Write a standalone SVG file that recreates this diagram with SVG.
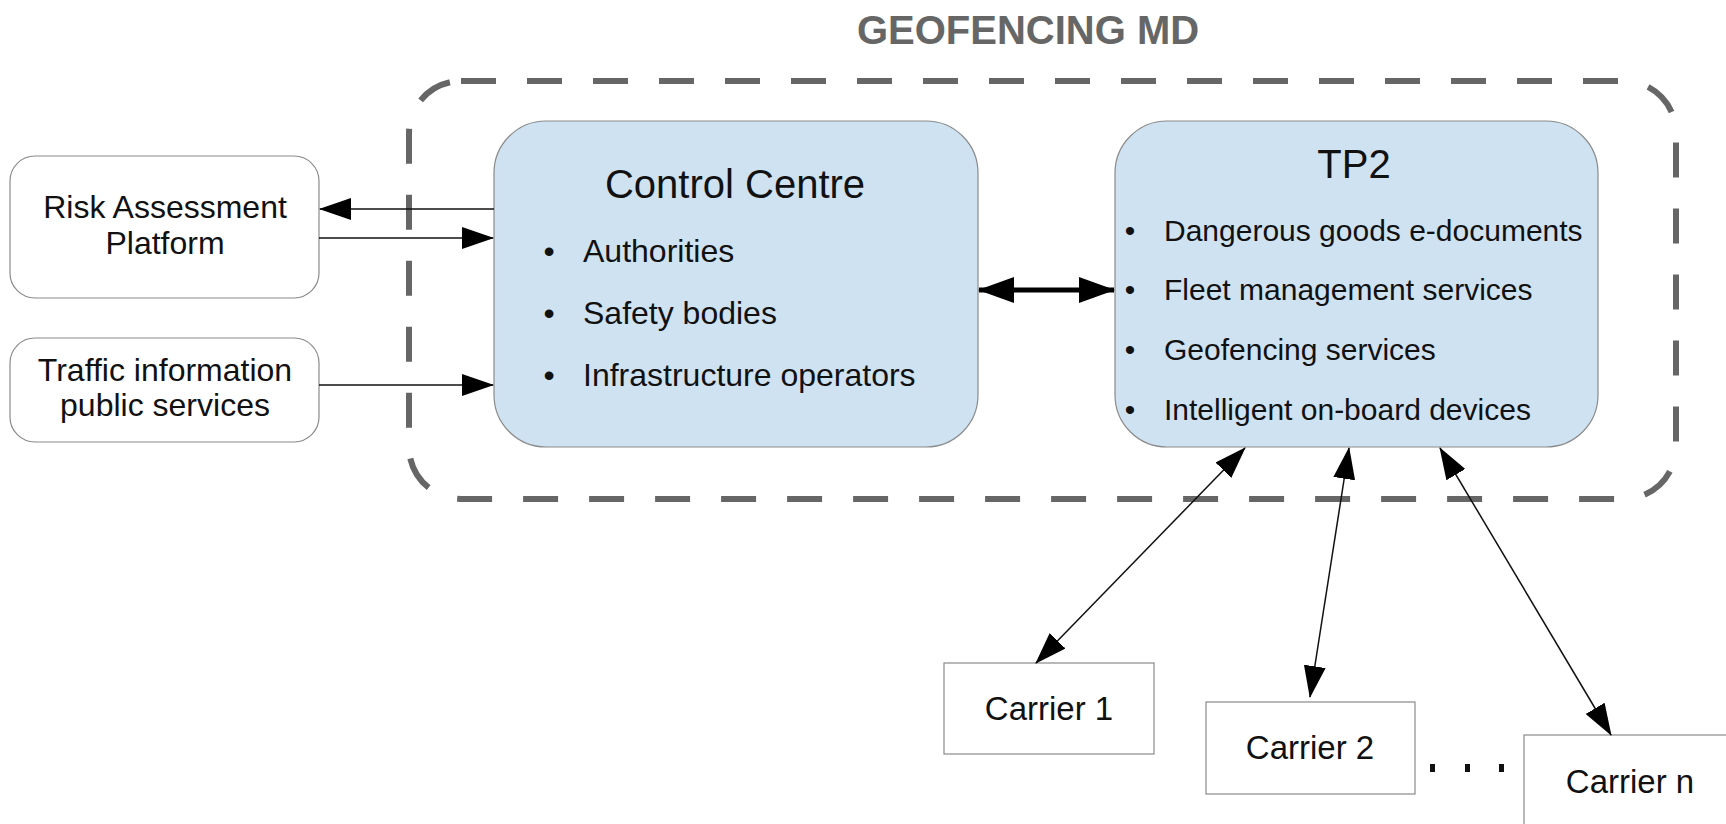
<svg xmlns="http://www.w3.org/2000/svg" width="1726" height="824" viewBox="0 0 1726 824">
<style>
  text { font-family: "Liberation Sans", Arial, sans-serif; fill: #111; }
  .title { font-size: 40px; font-weight: bold; fill: #666; }
  .head { font-size: 40px; }
  .cc { font-size: 32px; }
  .tp { font-size: 30px; }
  .lbl { font-size: 32px; }
  .car { font-size: 33px; }
  .blue { fill: #cfe2f2; stroke: #8a8a8a; stroke-width: 1.2; }
  .white { fill: #fff; stroke: #8a8a8a; stroke-width: 1.2; }
  .thin { stroke: #111; stroke-width: 1.5; fill: none; }
  .thick { stroke: #000; stroke-width: 5; fill: none; }
</style>
<defs>
  <marker id="ah" markerUnits="userSpaceOnUse" markerWidth="32" markerHeight="22" refX="31" refY="11" orient="auto-start-reverse">
    <path d="M0,0 L32,11 L0,22 Z" fill="#000"/>
  </marker>
  <marker id="ahb" markerUnits="userSpaceOnUse" markerWidth="36" markerHeight="26" refX="35" refY="13" orient="auto-start-reverse">
    <path d="M0,0 L36,13 L0,26 Z" fill="#000"/>
  </marker>
</defs>
<rect width="1726" height="824" fill="#fff"/>

<text class="title" x="1028" y="44" text-anchor="middle">GEOFENCING MD</text>

<rect id="container" x="409" y="81" width="1267" height="418" rx="52" ry="52" fill="none" stroke="#666" stroke-width="6" stroke-dasharray="35 31"/>

<g id="risk">
  <rect class="white" x="10" y="156" width="309" height="142" rx="25"/>
  <text class="lbl" x="165" y="218" text-anchor="middle">Risk Assessment</text>
  <text class="lbl" x="165" y="254" text-anchor="middle">Platform</text>
</g>
<g id="traffic">
  <rect class="white" x="10" y="338" width="309" height="104" rx="25"/>
  <text class="lbl" x="165" y="381" text-anchor="middle">Traffic information</text>
  <text class="lbl" x="165" y="416" text-anchor="middle">public services</text>
</g>

<g id="control-centre">
  <rect class="blue" x="494" y="121" width="484" height="326" rx="52"/>
  <text class="head" x="735" y="198" text-anchor="middle">Control Centre</text>
  <text class="cc" x="549" y="262" text-anchor="middle">•</text>
  <text class="cc" x="583" y="262">Authorities</text>
  <text class="cc" x="549" y="324" text-anchor="middle">•</text>
  <text class="cc" x="583" y="324">Safety bodies</text>
  <text class="cc" x="549" y="386" text-anchor="middle">•</text>
  <text class="cc" x="583" y="386">Infrastructure operators</text>
</g>

<g id="tp2">
  <rect class="blue" x="1115" y="121" width="483" height="326" rx="52"/>
  <text class="head" x="1354" y="178" text-anchor="middle">TP2</text>
  <text class="tp" x="1130" y="241" text-anchor="middle">•</text>
  <text class="tp" x="1164" y="241">Dangerous goods e-documents</text>
  <text class="tp" x="1130" y="300" text-anchor="middle">•</text>
  <text class="tp" x="1164" y="300">Fleet management services</text>
  <text class="tp" x="1130" y="360" text-anchor="middle">•</text>
  <text class="tp" x="1164" y="360">Geofencing services</text>
  <text class="tp" x="1130" y="420" text-anchor="middle">•</text>
  <text class="tp" x="1164" y="420">Intelligent on-board devices</text>
</g>

<g id="carrier1">
  <rect class="white" x="944" y="663" width="210" height="91"/>
  <text class="car" x="1049" y="720" text-anchor="middle">Carrier 1</text>
</g>
<g id="carrier2">
  <rect class="white" x="1206" y="702" width="209" height="92"/>
  <text class="car" x="1310" y="759" text-anchor="middle">Carrier 2</text>
</g>
<g id="carriern">
  <rect class="white" x="1524" y="735" width="220" height="110"/>
  <text class="car" x="1630" y="793" text-anchor="middle">Carrier n</text>
</g>

<g id="dots" fill="#111">
  <rect x="1430" y="764" width="5" height="8"/>
  <rect x="1465" y="764" width="5" height="8"/>
  <rect x="1499" y="764" width="5" height="8"/>
</g>

<g id="connectors">
  <line class="thin" x1="494" y1="209" x2="320" y2="209" marker-end="url(#ah)"/>
  <line class="thin" x1="319" y1="238" x2="493" y2="238" marker-end="url(#ah)"/>
  <line class="thin" x1="319" y1="385" x2="493" y2="385" marker-end="url(#ah)"/>
  <line class="thick" x1="979" y1="290" x2="1114" y2="290" marker-start="url(#ahb)" marker-end="url(#ahb)"/>
  <line class="thin" x1="1245" y1="448" x2="1036" y2="663" marker-start="url(#ah)" marker-end="url(#ah)"/>
  <line class="thin" x1="1349" y1="448" x2="1310" y2="697" marker-start="url(#ah)" marker-end="url(#ah)"/>
  <line class="thin" x1="1440" y1="448" x2="1611" y2="735" marker-start="url(#ah)" marker-end="url(#ah)"/>
</g>
</svg>
